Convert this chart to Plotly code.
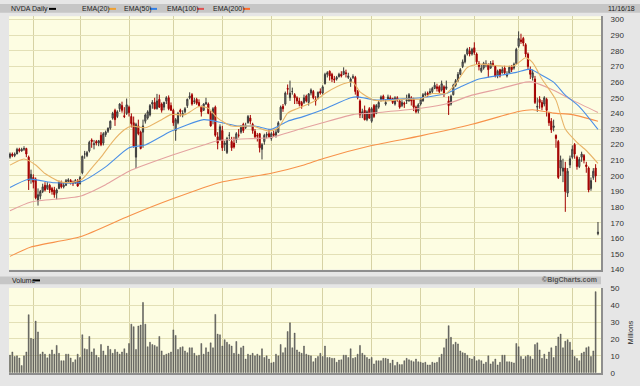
import plotly.graph_objects as go
import pandas as pd

W, H = 640, 386
def px(x): return x / W
def py(y): return 1 - y / H

# ---- trading days (categories) ----
holidays = ["2017-11-23", "2017-12-25", "2018-01-01", "2018-01-15", "2018-02-19",
            "2018-03-30", "2018-05-28", "2018-07-04", "2018-09-03"]
dates = [d for d in pd.bdate_range("2017-11-16", "2018-11-16") if d.strftime("%Y-%m-%d") not in holidays]
idx = list(range(len(dates)))
month_starts = [i for i in range(1, len(dates)) if dates[i].month != dates[i - 1].month]

# ---- daily OHLC ----
opens = [
    # Nov 2017
    212, 214, 213, 214, 217, 216, 217, 217.5, 212, 198,
    # Dec
    199, 198, 184, 187, 190, 194, 192, 194, 192, 191, 189, 192, 196, 193, 194, 196.5, 197, 196, 195.5, 197,
    # Jan 2018
    195, 202, 214, 213, 216, 223, 220, 222, 221, 226, 221, 226.5, 228.5, 230.5, 237, 242, 238, 243, 245, 238.5, 240,
    # Feb
    244, 238, 234, 212, 232, 228, 228, 235, 237, 239, 246, 247, 243, 249, 246, 244, 248, 250, 245,
    # Mar
    242, 229, 234, 242, 239, 241, 245, 250, 252, 247.5, 249, 247, 244, 242, 246, 246, 240, 236, 244, 225, 223,
    # Apr
    229, 220, 215, 226, 222, 221, 223, 226, 228, 233, 231, 234, 237, 233, 228.5, 226, 227, 217, 222, 226, 227,
    # May
    224, 227, 226, 228, 236, 244.5, 246, 256, 250, 254, 252, 250, 248, 247, 247, 251, 247, 253, 254, 249, 250, 254,
    # Jun
    253, 259, 265, 267, 265, 262, 262, 263.5, 265, 265, 266, 263, 260, 263, 263, 254, 248, 240, 242, 236, 243,
    # Jul
    235, 245, 240, 244, 249, 251, 246, 249, 250, 249.5, 246, 250, 248, 245, 246.5, 248, 248, 250, 249, 244, 241.5,
    # Aug
    246, 248, 252, 253, 253, 254, 256, 257, 257, 255, 257, 256, 248, 246, 252, 258, 261, 265, 270, 273, 278, 280, 278,
    # Sep
    282, 278, 272, 267, 269, 271, 271, 269, 272, 270, 264, 268, 266, 269, 264, 266, 270, 269, 272,
    # Oct
    283, 287, 288, 284, 278, 268, 263, 262, 244, 249, 247, 246, 249, 240, 235, 231, 226, 222, 205, 203, 205, 189, 207,
    # Nov
    212, 220, 212, 206, 212, 213, 207, 205, 192, 199, 205, 163,
]
highs = [
    215, 215, 215, 218, 218, 218, 219, 218, 213, 204,
    201, 199, 192, 191, 195, 196, 196, 195, 193, 193, 192, 197, 197, 195.5, 198, 198.5, 198, 197, 198, 198,
    200, 213, 216, 216, 222.5, 224, 223, 223, 223, 228, 228, 229, 231, 235.5, 241, 243, 242, 246.5, 247.5, 244, 249.5,
    245, 240, 238, 234, 236, 229, 236, 240, 242, 246, 248.5, 250, 252.5, 252, 247, 247.5, 251, 251.5, 247,
    243, 237, 241, 243, 242, 244, 249.5, 253.5, 253, 250, 250, 249, 245, 246.5, 250, 247, 241.5, 244, 245, 228, 233,
    232, 222.5, 225, 228, 225, 225, 228, 230, 232.5, 234, 234, 239, 239, 234, 230, 227.5, 227.5, 221, 227, 228, 230,
    228, 229, 230, 235, 245, 246, 254, 258.5, 261, 256.5, 253, 251, 250, 248, 252, 252, 253, 256, 255, 251, 254, 256,
    258, 266, 267, 267.5, 266, 264, 264, 266, 267, 269.5, 268, 266, 263, 265, 264, 255, 249, 243, 245, 242, 244,
    244, 246, 246, 248.5, 251.5, 252, 249, 252, 251.5, 250, 251, 251, 249, 248.5, 247.5, 252, 253, 251, 250, 245, 246.5,
    250, 253, 254, 254, 256, 257, 260, 259, 258, 261, 258, 261, 251, 252, 259, 262, 266.5, 269, 274.5, 278, 282, 282.5, 282,
    285.5, 279, 273.5, 271, 273, 274, 272, 273.5, 274, 271, 268, 268.5, 270, 270.5, 267, 270.5, 271, 272.5, 282,
    292.5, 291, 289, 285, 279, 270, 268, 264, 250, 251, 248.5, 251, 250, 241, 237, 236, 226.5, 223, 213, 211, 209, 205, 213,
    219.5, 221, 213, 212, 215.5, 214, 209, 206, 199, 205, 207.5, 170.5,
]
lows = [
    211, 212, 212, 214, 215, 215.5, 216, 212, 191, 195,
    192, 185, 181, 185, 189, 190, 191, 189, 188, 186, 185, 191.5, 192, 192, 193.5, 195.5, 194.5, 193.5, 195, 193,
    194.5, 201, 211, 212, 215, 218, 217, 219.5, 219, 219, 219.5, 225, 227.5, 229.5, 236, 232, 237, 241, 240.5, 237, 239,
    238, 231, 218, 205, 226, 217, 218, 233.5, 236, 238, 243, 242.5, 242.5, 243.5, 240.5, 242, 246, 242, 241.5,
    232, 222.5, 233, 238, 237.5, 240, 243.5, 249, 245, 246, 245.5, 244, 238, 241.5, 245.5, 239.5, 231.5, 233, 225, 217, 222.5,
    216, 216, 214, 222.5, 216, 217.5, 221, 224.5, 227, 227.5, 230, 233.5, 233, 227, 223.5, 222, 215, 210.5, 220, 224, 224.5,
    222.5, 225, 224.5, 227.5, 235.5, 241, 245, 252, 248, 252, 246, 246, 244.5, 243, 246, 247, 245, 251.5, 249, 245, 249, 252,
    252, 258.5, 263, 261, 260, 259.5, 261, 263, 263, 264.5, 263, 262, 257, 262, 252, 249, 237, 237, 235.5, 235, 236.5,
    234, 237, 239.5, 243, 247.5, 248, 245, 248.5, 248, 246, 245, 247.5, 243, 244, 243.5, 246, 247.5, 245, 241.5, 240, 240,
    245, 247.5, 251, 250.5, 252, 253, 255.5, 254, 253, 254, 250.5, 255, 239, 245, 251.5, 257, 260, 264.5, 269, 272, 277, 276.5, 277,
    277.5, 271, 267.5, 266, 268, 269.5, 263, 268.5, 270, 263, 262.5, 263, 265.5, 265, 263, 265.5, 266.5, 268, 271.5,
    282, 284.5, 283, 276, 268, 262, 261, 246, 241, 243, 242, 244.5, 238, 232, 227.5, 228.5, 218, 198, 200, 196, 177, 186.5, 205,
    211, 211, 204, 205, 209, 208, 202, 189.5, 190.5, 197.5, 196, 162,
]
closes = [
    214, 213, 214, 217, 216, 217, 217.5, 214, 197, 201,
    196, 186, 188, 190, 193, 191, 194, 191, 190, 188, 191, 196, 193, 194, 197, 197.5, 196, 195, 197, 193.5,
    199, 212.5, 214, 215, 221.5, 222, 220.5, 221, 222.5, 220, 227, 228, 230.5, 235, 240, 236, 241, 246, 242, 238, 245.5,
    240.5, 233.5, 219, 233, 227, 217.5, 232, 239, 241, 245, 247, 243, 248, 244, 242, 247, 250, 243, 242,
    234, 236, 240, 241, 240, 243, 249, 251, 246, 248, 246.5, 245, 241, 246, 247, 240, 232, 243, 226, 221, 231.5,
    218, 221, 224, 226, 218, 218.5, 227, 226, 231, 229, 232, 238, 235, 229, 225, 225.5, 218, 220, 226, 226.5, 225,
    227, 226, 228, 234, 244, 243, 253, 255.5, 253, 254, 250, 248, 246, 245, 250, 248, 252.5, 255, 250, 248, 253.5, 253,
    257, 265, 266, 264, 262, 261.5, 263, 265, 264, 267, 265.5, 264, 262, 263.5, 254, 250, 239, 241, 236, 241, 237,
    243, 238, 245, 247, 250.5, 249, 247, 250.5, 249, 247, 250, 248.5, 244, 247, 246, 248.5, 252, 248, 244, 241, 245.5,
    249, 252, 252.5, 252, 254, 256, 258, 256, 254, 259, 253, 257, 245, 251, 258, 261, 265, 268, 273, 277, 281, 278, 281,
    279, 273, 270, 269, 272, 271.5, 268, 272, 271, 264, 267, 264, 268, 266, 265, 269.5, 268, 271.5, 281,
    288, 286, 285, 278, 270, 265, 266, 247, 244.5, 247, 244, 250, 242, 234, 229.5, 232, 224, 199, 210, 205, 190, 203, 211,
    217, 214, 206, 210.5, 214, 210, 206, 191, 197, 203, 200, 164,
]

# ---- daily volume, millions ----
volume = [
    10.4, 12.3, 9.6, 10.0, 8.7, 4.2, 10.0, 12.3, 34.4, 20.4,
    20.0, 30.6, 24.2, 11.0, 12.3, 11.0, 8.8, 11.0, 13.5, 11.0, 16.2, 11.5, 7.1, 7.1, 11.0, 11.0, 8.7, 6.2, 7.7, 11.0,
    9.0, 22.5, 14.2, 13.8, 21.5, 12.3, 14.2, 10.4, 9.0, 16.7, 12.9, 10.4, 15.8, 13.8, 11.5, 13.8, 12.3, 11.0, 12.3, 14.2, 11.5,
    17.3, 28.8, 27.3, 13.8, 27.7, 28.3, 41.7, 28.8, 15.4, 18.1, 16.7, 16.2, 15.4, 21.5, 12.9, 10.4, 11.0, 11.5,
    12.3, 25.4, 22.1, 13.8, 15.0, 15.4, 12.9, 11.9, 14.8, 14.8, 11.5, 10.0, 10.4, 17.3, 11.0, 14.8, 12.3, 17.7, 14.8, 34.6, 22.9,
    22.5, 15.8, 19.6, 18.1, 16.7, 15.8, 11.5, 18.5, 11.0, 14.8, 15.8, 8.1, 11.0, 10.4, 11.5, 10.0, 11.0, 10.0, 14.2, 9.0, 10.0,
    8.1, 5.8, 6.2, 11.0, 10.0, 16.7, 11.9, 14.8, 24.4, 29.6, 14.8, 23.5, 13.5, 12.3, 11.5, 15.8, 11.0, 10.4, 10.0, 6.5, 8.5, 9.6,
    11.5, 9.6, 15.8, 9.0, 9.0, 8.5, 8.5, 6.2, 7.5, 7.7, 10.4, 10.4, 9.0, 14.2, 8.5, 9.0, 11.0, 16.2, 11.5, 10.4, 9.0,
    8.1, 9.0, 5.2, 7.1, 7.1, 7.1, 8.5, 8.5, 8.1, 5.6, 7.5, 4.2, 6.2, 4.8, 4.8, 7.1, 8.5, 7.7, 7.1, 6.5, 8.1,
    6.5, 6.2, 5.8, 6.2, 4.6, 4.6, 6.2, 5.8, 6.2, 9.0, 11.0, 14.8, 20.0, 27.9, 21.0, 16.7, 18.1, 17.1, 12.9, 11.9, 11.5, 10.4, 8.5,
    8.1, 9.6, 7.1, 7.7, 7.1, 5.2, 6.2, 10.0, 5.2, 6.5, 8.1, 4.6, 6.2, 10.4, 10.4, 6.5, 6.5, 6.2, 5.8,
    17.3, 15.4, 9.6, 8.1, 9.6, 10.4, 9.6, 8.1, 16.7, 17.7, 13.5, 8.5, 11.0, 8.1, 12.3, 14.8, 9.0, 15.8, 21.2, 22.9, 14.8, 18.7, 19.6,
    18.1, 13.5, 9.6, 8.5, 7.1, 11.5, 12.3, 14.8, 15.4, 9.6, 12.9, 48.1,
]

ema20_day = [0, 6, 11, 15, 21, 26, 31, 35, 39, 44, 49, 52, 58, 65, 69, 75, 81, 85, 89, 95, 104, 111, 115, 119, 123,
             130, 136, 143, 147, 150, 156, 161, 170, 176, 181, 187, 191, 196, 201, 210, 216, 221, 224, 228, 234,
             238, 243, 247, 252]
ema20_val = [206.9, 210.8, 207, 201.5, 196.5, 195.8, 198, 205, 212, 222, 229.5, 231.9, 230.8, 236, 239.2, 239.2,
             244.4, 243.3, 237, 231.9, 231.9, 228.75, 230.8, 240.2, 243, 247.5, 253.75, 259, 260, 253.75, 248.5,
             248, 249.2, 249.2, 252.7, 252.7, 259, 269.4, 271.5, 270.4, 270.4, 275.6, 272.5, 262, 248.5, 230,
             221.5, 216.25, 208]
ema50_day = [0, 8, 19, 30, 41, 51, 58, 69, 83, 91, 98, 105, 112, 119, 126, 134, 146, 149, 157, 167, 176, 187,
             193, 201, 211, 217, 223, 227, 233, 238, 244, 252]
ema50_val = [192.6, 197.9, 195.6, 196, 205.8, 218, 219.8, 228.5, 236, 234, 231.9, 231.9, 229.8, 235, 238.1,
             242.3, 250, 250.6, 248.5, 249.2, 250, 252.7, 256.9, 262, 264.6, 266.25, 268.3, 265.2, 260, 251.7,
             244.4, 229.8]
ema100_day = [0, 9, 30, 41, 51, 70, 83, 89, 105, 112, 124, 134, 147, 155, 176, 188, 198, 210, 221, 224, 233, 241, 252]
ema100_val = [177.7, 183.3, 187, 194.4, 203, 213.5, 219.8, 222.5, 224, 224.6, 229.8, 234, 239.2, 240.2, 243.3,
              246.5, 251.7, 255.8, 260, 260, 254.8, 248.5, 240.6]
ema200_day = [0, 9, 30, 51, 70, 90, 112, 126, 134, 155, 176, 198, 218, 224, 233, 241, 252]
ema200_val = [148.5, 154.5, 161, 174.4, 185.5, 195.8, 201.7, 207, 211, 219.4, 225.6, 233, 241.25, 242.3,
              240.2, 239.2, 235]

price_ticks = list(range(140, 301, 10))
vol_ticks = [0, 10, 20, 30, 40, 50]

# ---- styles ----
BG = "#e6e6e6"
PLOT_BG = "#fdfde2"
GRID_H = "#e3e0b6"
GRID_V = "#d6d2a4"
BORDER = "#8e8e8e"
FONT = "Liberation Sans"
C20, C50, C100, C200 = "#e8b468", "#4a8fe6", "#e4a2a0", "#f7924a"

fig = go.Figure()

for dx, dv, col in [(ema200_day, ema200_val, C200), (ema100_day, ema100_val, C100),
                    (ema50_day, ema50_val, C50), (ema20_day, ema20_val, C20)]:
    fig.add_trace(go.Scatter(x=dx, y=dv, mode="lines", line=dict(color=col, width=1.1, shape="spline", smoothing=0.6),
                             xaxis="x", yaxis="y", hoverinfo="skip", showlegend=False))

fig.add_trace(go.Candlestick(
    x=idx, open=opens, high=highs, low=lows, close=closes,
    increasing=dict(line=dict(color="#3a3a3a", width=1), fillcolor="#8c8c8c"),
    decreasing=dict(line=dict(color="#a30000", width=1), fillcolor="#a30000"),
    whiskerwidth=0, xaxis="x", yaxis="y", hoverinfo="skip", showlegend=False))

fig.add_trace(go.Bar(x=idx, y=volume, width=0.42, xaxis="x2", yaxis="y2",
                     marker=dict(color="#6e6e6a", line=dict(color="#3a3a3a", width=0.4)),
                     hoverinfo="skip", showlegend=False))

xr = [-0.43, 253.3]
common_x = dict(range=xr, tickvals=month_starts, showticklabels=False, showgrid=True, gridcolor=GRID_V,
                gridwidth=1, zeroline=False, showline=True, linecolor=BORDER, linewidth=2, ticks="",
                fixedrange=True, domain=[px(9), px(601)])
tickfont = dict(family=FONT, size=8, color="#333333")

fig.update_layout(
    width=W, height=386, margin=dict(l=0, r=0, t=0, b=0),
    paper_bgcolor=BG, plot_bgcolor=PLOT_BG, showlegend=False, hovermode=False,
    xaxis=dict(anchor="y", rangeslider=dict(visible=False), **common_x),
    yaxis=dict(anchor="x", domain=[py(272), py(12.5)], range=[140, 302.2], side="right",
               tickvals=price_ticks, tickfont=tickfont, ticks="outside", ticklen=6,
               tickcolor="rgba(0,0,0,0)", showgrid=True, gridcolor=GRID_H, zeroline=False,
               showline=True, linecolor=BORDER, linewidth=2, fixedrange=True),
    xaxis2=dict(anchor="y2", **common_x),
    yaxis2=dict(anchor="x2", domain=[py(377.5), py(290.7)], range=[0, 50.3], side="right",
                tickvals=vol_ticks, tickfont=tickfont, ticks="outside", ticklen=6,
                tickcolor="rgba(0,0,0,0)", showgrid=True, gridcolor=GRID_H, zeroline=False,
                showline=True, linecolor=BORDER, linewidth=2, fixedrange=True),
)

shapes = [
    dict(type="rect", xref="paper", yref="paper", x0=0, x1=1, y0=py(9), y1=1,
         fillcolor="#c6c6c6", line=dict(width=0), layer="below"),
    dict(type="rect", xref="paper", yref="paper", x0=0, x1=px(601), y0=py(287), y1=py(279),
         fillcolor="#c6c6c6", line=dict(width=0), layer="below"),
]
# legend swatches
for x0, col in [(49, "#000000"), (109, "#f0a030"), (150, "#2f7fe8"), (197, "#e05050"), (243, "#ff6a2a"),
                (33, "#000000")]:
    yy = 5 if x0 != 33 else 283
    shapes.append(dict(type="line", xref="paper", yref="paper", x0=px(x0), x1=px(x0 + 7),
                       y0=py(yy), y1=py(yy), line=dict(color=col, width=2)))
fig.update_layout(shapes=shapes)

hdr = dict(family=FONT, size=7, color="#222222")
ann = []
for txt, x in [("NVDA Daily", 9), ("EMA(20)", 80), ("EMA(50)", 122), ("EMA(100)", 165), ("EMA(200)", 211)]:
    ann.append(dict(text=txt, x=px(x), y=py(5), xref="paper", yref="paper", xanchor="left",
                    yanchor="middle", showarrow=False, font=hdr))
ann.append(dict(text="11/16/18", x=px(621), y=py(5), xref="paper", yref="paper", xanchor="center",
                yanchor="middle", showarrow=False, font=hdr))
ann.append(dict(text="Volume", x=px(10), y=py(283), xref="paper", yref="paper", xanchor="left",
                yanchor="middle", showarrow=False, font=hdr))
ann.append(dict(text="<b>©BigCharts.com</b>", x=px(599), y=py(283), xref="paper", yref="paper",
                xanchor="right", yanchor="middle", showarrow=False,
                font=dict(family=FONT, size=7, color="#555555")))
ann.append(dict(text="Millions", x=px(630), y=py(336), xref="paper", yref="paper", xanchor="center",
                yanchor="middle", textangle=-90, showarrow=False, font=hdr))
fig.update_layout(annotations=ann)

fig.write_html("out.html", config={"displayModeBar": False, "staticPlot": True})
